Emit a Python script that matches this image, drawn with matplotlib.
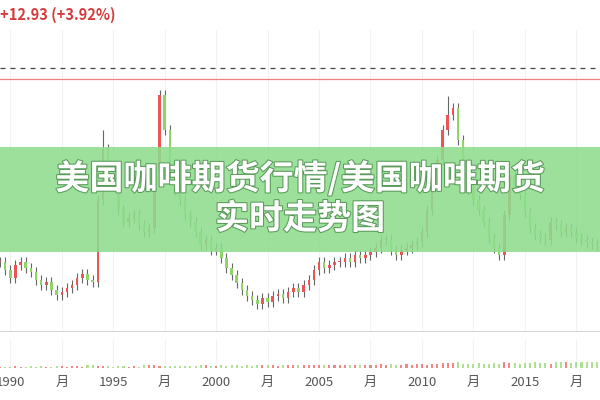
import numpy as np
import matplotlib.pyplot as plt
from matplotlib import patheffects

plt.rcParams['font.family'] = ['Noto Sans CJK SC', 'DejaVu Sans']

# quarterly closes, US cents/lb, starting 1989 Q3
start_year = 1989.5
closes = [95, 86,
          76, 92, 95, 88,
          83, 74, 68, 71,
          62, 56, 60, 64,
          68, 76, 81, 74,
          71, 169, 229, 199,
          187, 157, 143, 148,
          151, 139, 131, 136,
          205, 294, 252, 199,
          181, 169, 151, 143,
          131, 115, 121, 110,
          112, 100, 88, 80,
          70, 62, 55, 50,
          45, 52, 48, 55,
          57, 52, 60, 64,
          60, 68, 74, 86,
          95, 88, 92, 95,
          95, 100, 95, 104,
          100, 104, 107, 112,
          121, 121, 110, 104,
          110, 112, 115, 119,
          131, 157, 193, 217,
          252, 270, 278, 240,
          211, 181, 169, 157,
          143, 124, 112, 104,
          151, 199, 187, 175,
          155, 136, 127, 124,
          121, 143, 139, 131,
          136, 131, 124, 121,
          119, 117, 114, 112]
# quarter index -> wick high
spike_highs = {20: 252, 31: 300, 87: 292}
volumes = [2, 2, 2, 3, 2, 2, 3, 2, 3, 2, 2, 3, 3, 2, 3, 3, 2, 4, 5, 3,
           3, 3, 2, 3, 3, 2, 3, 2, 4, 5, 4, 3, 3, 3, 3, 3, 3, 3, 3, 4,
           4, 3, 3, 4, 3, 4, 4, 3, 4, 3, 4, 4, 4, 4, 3, 4, 4, 5, 4, 4,
           4, 4, 5, 5, 5, 4, 4, 5, 5, 5, 5, 4, 5, 5, 6, 5, 6, 5, 5, 6,
           5, 6, 6, 5, 6, 6, 7, 7, 7, 8, 6, 6, 6, 7, 6, 6, 7, 6, 8, 7,
           7, 6, 7, 7, 8, 7, 7, 6, 8, 8, 9, 7, 8, 8, 9, 8, 9, 10]
tick_pos = [1990, 1992.5, 1995, 1997.5, 2000, 2002.5, 2005, 2007.5, 2010, 2012.5, 2015, 2017.5]
tick_labels = ['1990', '月', '1995', '月', '2000', '月', '2005', '月', '2010', '月', '2015', '月']

up_color = '#ec5555'
down_color = '#8fd466'

fig = plt.figure(figsize=(6, 4), dpi=100)
ax = fig.add_axes([0, 68 / 400, 1, 302 / 400])
vax = fig.add_axes([0, 32 / 400, 1, 28 / 400])

x = start_year + np.arange(len(closes)) * 0.25
opens = [closes[0]] + closes[:-1]
for i, (xi, o, c) in enumerate(zip(x, opens, closes)):
    col = up_color if c >= o else down_color
    hi = spike_highs.get(i, max(o, c) + 6)
    lo = min(o, c) - 6
    ax.vlines(xi, lo, hi, color='#666666', lw=0.8, zorder=2)
    ax.bar(xi, max(abs(c - o), 1), bottom=min(o, c), width=0.12, color=col, zorder=3)
    vax.bar(xi, volumes[i], width=0.1, color=col, alpha=0.7)

ax.axhline(326, color='#444444', ls=(0, (4, 4)), lw=0.9)
ax.axhline(313, color='#f08080', lw=0.9)
for t in tick_pos:
    ax.axvline(t, color='#f2f2f2', lw=0.8, zorder=0)
    vax.axvline(t, color='#f2f2f2', lw=0.8, zorder=0)

ax.set_xlim(1989.5, 2018.65)
ax.set_ylim(12, 371)
vax.set_xlim(1989.5, 2018.65)
vax.set_ylim(0, 40)
for a in (ax, vax):
    for s in a.spines.values():
        s.set_visible(False)
    a.set_yticks([])
ax.set_xticks([])
ax.axhline(12.5, color='#cccccc', lw=1.2)
vax.set_xticks(tick_pos)
vax.set_xticklabels(tick_labels, color='#555555', fontsize=9.5)
vax.tick_params(axis='x', length=0, pad=6)

fig.text(0.0, 0.962, '+12.93 (+3.92%)', color='#d63b3b', fontsize=10.5,
         fontweight='bold', va='center', ha='left')

banner = fig.add_axes([0, 148 / 400, 1, 105 / 400])
banner.set_facecolor('#8edc8e')
banner.patch.set_alpha(0.88)
banner.set_xticks([])
banner.set_yticks([])
for s in banner.spines.values():
    s.set_visible(False)
for ty, txt in [(0.7, '美国咖啡期货行情/美国咖啡期货'), (0.32, '实时走势图')]:
    banner.text(0.5, ty, txt, color='white', fontsize=24.5, fontweight='bold',
                ha='center', va='center',
                path_effects=[patheffects.withStroke(linewidth=1.5, foreground='#5a9a5a')])

fig.savefig('out.png')
